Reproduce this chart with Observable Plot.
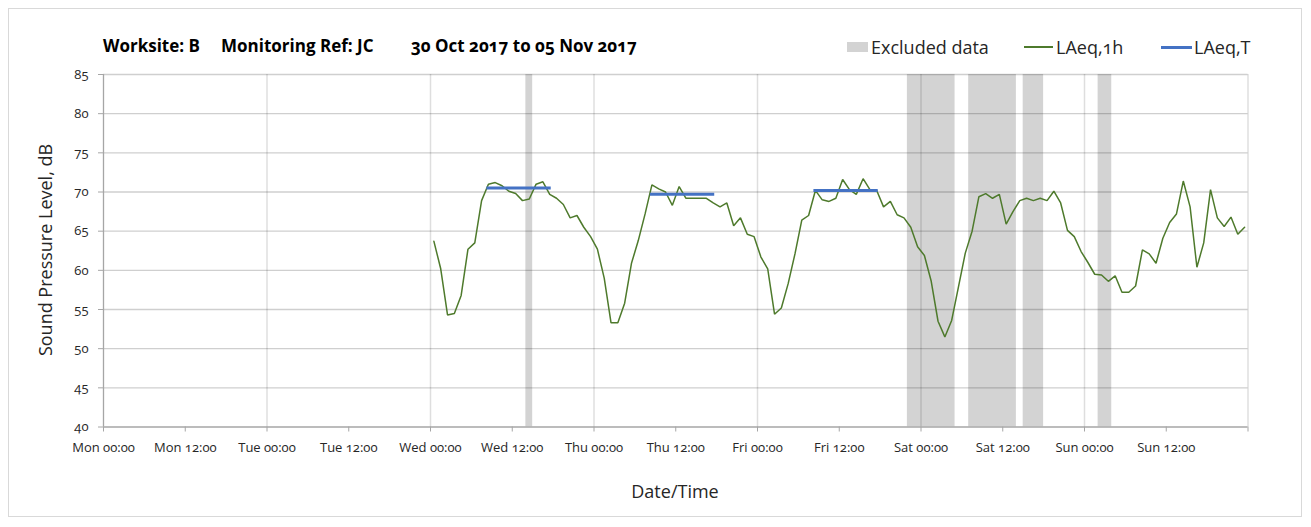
<!DOCTYPE html>
<html>
<head>
<meta charset="utf-8">
<script src="https://cdn.jsdelivr.net/npm/d3@7"></script>
<script src="https://cdn.jsdelivr.net/npm/@observablehq/plot@0.6"></script>
<style>
  html, body { margin: 0; padding: 0; background: #fff; }
  body { font-family: "Open Sans", sans-serif; }
  #wrap { position: relative; width: 1311px; height: 527px; overflow: hidden; background: #fff; }
  #frame { position: absolute; left: 8px; top: 8px; width: 1294px; height: 509px; border: 1px solid #d9d9d9; box-sizing: border-box; pointer-events: none; }
  #chart { position: absolute; left: 0; top: 0; }
  .t { position: absolute; white-space: pre; line-height: 1; font-variant-numeric: oldstyle-nums; color: #000; }
  .title { font-weight: 700; font-size: 17px; top: 37px; }
  .leg { font-size: 18px; top: 38px; color: #262626; }
  .sw { position: absolute; }
  .axt { font-size: 18px; color: #262626; }
</style>
</head>
<body>
<div id="wrap">
  <div id="frame"></div>
  <div id="chart"></div>
</div>
<script>
// ---------------- data ----------------
const titleParts = ["Worksite: B", "Monitoring Ref: JC", "30 Oct 2017 to 05 Nov 2017"];
const legendLabels = ["Excluded data", "LAeq,1h", "LAeq,T"];
const yTitle = "Sound Pressure Level, dB";
const xTitle = "Date/Time";

// x in hours since Mon 30 Oct 2017 00:00
const tickHours = [0, 12, 24, 36, 48, 60, 72, 84, 96, 108, 120, 132, 144, 156, 168];
const tickLabels = ["Mon 00:00", "Mon 12:00", "Tue 00:00", "Tue 12:00", "Wed 00:00", "Wed 12:00",
  "Thu 00:00", "Thu 12:00", "Fri 00:00", "Fri 12:00", "Sat 00:00", "Sat 12:00",
  "Sun 00:00", "Sun 12:00", ""];
const dayHours = [24, 48, 72, 96, 120, 144, 168];
const yTicks = [40, 45, 50, 55, 60, 65, 70, 75, 80, 85];

// hourly LAeq,1h, first hour starts Wed 00:00 (plotted at hour mid-points)
const seriesStartHour = 48;
const laeq1h = [
  // Wed
  63.7, 60.2, 54.3, 54.5, 56.8, 62.7, 63.5, 68.9, 71.0, 71.2, 70.8, 70.1,
  69.8, 68.9, 69.1, 71.0, 71.3, 69.7, 69.2, 68.4, 66.7, 67.0, 65.5, 64.3,
  // Thu
  62.7, 59.0, 53.3, 53.3, 55.8, 60.9, 63.8, 67.2, 70.9, 70.4, 70.0, 68.3,
  70.7, 69.2, 69.2, 69.2, 69.2, 68.6, 68.1, 68.6, 65.7, 66.7, 64.6, 64.3,
  // Fri
  61.7, 60.2, 54.4, 55.2, 58.3, 62.1, 66.4, 67.0, 70.2, 69.0, 68.8, 69.2,
  71.6, 70.3, 69.7, 71.7, 70.3, 70.2, 68.1, 68.8, 67.1, 66.7, 65.5, 63.0,
  // Sat
  61.9, 58.6, 53.5, 51.5, 53.6, 57.9, 62.2, 65.0, 69.4, 69.8, 69.2, 69.7,
  65.9, 67.5, 68.9, 69.2, 68.9, 69.2, 68.9, 70.1, 68.6, 65.1, 64.3, 62.4,
  // Sun
  61.0, 59.5, 59.4, 58.6, 59.3, 57.2, 57.2, 58.0, 62.6, 62.1, 60.9, 64.1,
  66.1, 67.2, 71.4, 68.1, 60.4, 63.5, 70.3, 66.7, 65.6, 66.8, 64.6, 65.5
];

// excluded periods (hours since Mon 00:00)
const excludedStart = [62, 118, 127, 135, 146];
const excludedEnd   = [63, 125, 134, 138, 148];

// LAeq,T daytime values (08:00-18:00 periods, drawn between first and last hour mid-points)
const laeqTStart = [56.5, 80.5, 104.5];
const laeqTEnd   = [65.5, 89.5, 113.5];
const laeqTValue = [70.5, 69.7, 70.2];

// ---------------- tables ----------------
const series = laeq1h.map((v, i) => ({h: seriesStartHour + i + 0.5, v}));
const excluded = excludedStart.map((s, i) => ({start: s, end: excludedEnd[i]}));
const laeqT = laeqTValue.map((v, i) => ({from: laeqTStart[i], to: laeqTEnd[i], v}));

const GREEN = "#4e7a2c", BLUE = "#4472c4", GREY = "#d3d3d3", AXIS = "#a6a6a6";

const chart = Plot.plot({
  width: 1311,
  height: 527,
  marginLeft: 103,
  marginRight: 63.5,
  marginTop: 74,
  marginBottom: 100.5,
  x: {domain: [0, 168], axis: null},
  y: {domain: [40, 85], axis: null},
  style: {fontFamily: '"Open Sans", sans-serif', background: "transparent", color: "#262626", overflow: "visible"},
  marks: [
    Plot.rect(excluded, {x1: "start", x2: "end", fill: GREY}),
    Plot.ruleY(yTicks.filter(d => d > 40), {stroke: "#000", strokeOpacity: 0.19, strokeWidth: 1.3}),
    Plot.ruleX(dayHours, {stroke: "#000", strokeOpacity: 0.13, strokeWidth: 1.5}),
    Plot.line(series, {x: "h", y: "v", stroke: GREEN, strokeWidth: 1.5, strokeLinejoin: "miter"}),
    Plot.ruleY(laeqT, {x1: "from", x2: "to", y: "v", stroke: BLUE, strokeWidth: 3, strokeLinecap: "square"}),
    Plot.ruleY([40], {stroke: AXIS, strokeWidth: 1.3}),
    Plot.ruleX([0], {stroke: AXIS, strokeWidth: 1.3}),
    Plot.axisX({
      ticks: tickHours,
      tickFormat: d => tickLabels[tickHours.indexOf(d)],
      tickSize: 5, tickPadding: 11, fontSize: 13,
      stroke: AXIS, fill: "#262626", fontVariant: "oldstyle-nums", label: null
    }),
    Plot.axisY({
      ticks: yTicks,
      tickSize: 5, tickPadding: 10, fontSize: 13,
      stroke: AXIS, fill: "#262626", fontVariant: "oldstyle-nums", label: null
    })
  ]
});
document.getElementById("chart").appendChild(chart);

// ---------------- html text: title, legend, axis titles ----------------
const wrap = document.getElementById("wrap");
function addText(txt, cls, css) {
  const el = document.createElement("div");
  el.className = "t " + cls;
  el.textContent = txt;
  Object.assign(el.style, css);
  wrap.appendChild(el);
  return el;
}
function addSwatch(css) {
  const el = document.createElement("div");
  el.className = "sw";
  Object.assign(el.style, css);
  wrap.appendChild(el);
}
const titleLefts = [103, 221, 411];
titleParts.forEach((p, i) => addText(p, "title", {left: titleLefts[i] + "px"}));

// legend
addSwatch({left: "847px", top: "42px", width: "21px", height: "10px", background: GREY});
addText(legendLabels[0], "leg", {left: "871px"});
addSwatch({left: "1024px", top: "46px", width: "29px", height: "2px", background: GREEN});
addText(legendLabels[1], "leg", {left: "1056px"});
addSwatch({left: "1161px", top: "45.5px", width: "31px", height: "3px", background: BLUE});
addText(legendLabels[2], "leg", {left: "1194px"});

// axis titles
addText(yTitle, "axt", {left: "45px", top: "250px", transform: "translate(-50%,-50%) rotate(-90deg)"});
addText(xTitle, "axt", {left: "675px", top: "491px", transform: "translate(-50%,-50%)"});
</script>
</body>
</html>
